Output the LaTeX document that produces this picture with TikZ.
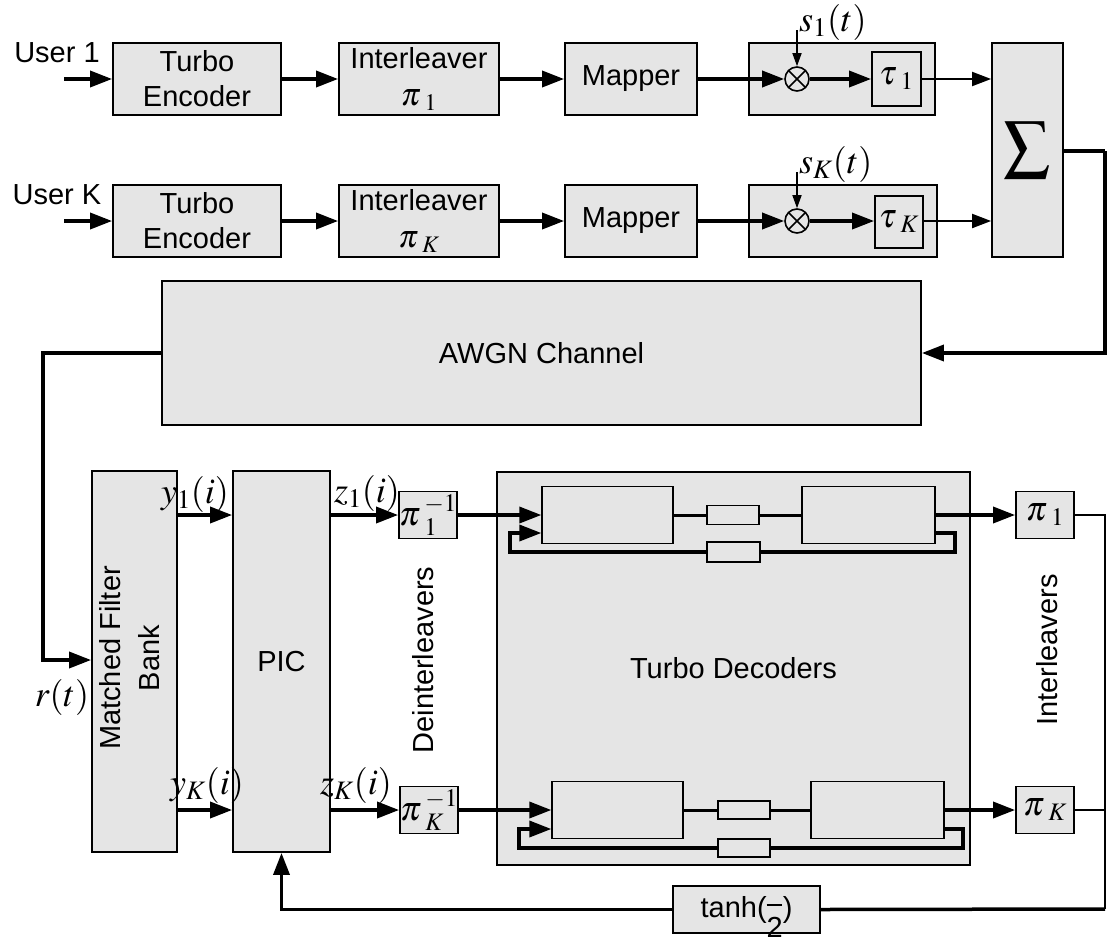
\documentclass[tikz,border=0pt]{standalone}
\usepackage{mathptmx}
\usepackage[no-math]{fontspec}
\setmainfont{Liberation Sans}
\usetikzlibrary{arrows.meta}
\definecolor{boxfill}{gray}{0.9}

\begin{document}
\begin{tikzpicture}[x=1pt, y=-1pt,
    box/.style={rectangle, draw, line width=1.8pt, fill=boxfill, inner sep=0pt, align=center, font=\fontsize{29}{35}\selectfont},
    small/.style={rectangle, draw, line width=1.3pt, fill=boxfill, inner sep=0pt},
    lbl/.style={inner sep=0pt, align=center, font=\fontsize{29}{39}\selectfont},
    mlabel/.style={inner sep=0pt, font=\fontsize{36}{40}\selectfont},
    pibox/.style={box, minimum width=58pt, minimum height=47pt, font=\fontsize{34}{36}\selectfont},
    mult/.style={circle, draw, line width=1.6pt, fill=boxfill, minimum size=24pt, inner sep=0pt,
        path picture={\draw[line width=1.6pt] (path picture bounding box.north west) -- (path picture bounding box.south east)
            (path picture bounding box.north east) -- (path picture bounding box.south west);}},
    conn/.style={line width=3.5pt, -{Triangle[length=22pt,width=16pt]}},
    tconn/.style={line width=2pt, -{Triangle[length=19pt,width=14pt]}},
    sconn/.style={line width=1.5pt, -{Triangle[length=13pt,width=9pt]}},
    wire/.style={line width=3.5pt},
]
    \useasboundingbox (0,0) rectangle (1107,945);

    % User 1
    \node[lbl] (u1) at (57,53) {User 1};
    \coordinate (in1) at (64,79);
    \node[box, minimum width=168pt, minimum height=72pt] (enc1) at (197,79) {Turbo\\Encoder};
    \node[box, minimum width=160pt, minimum height=72pt] (intl1) at (419,79) {Interleaver\\[2pt]{\fontsize{32}{32}\selectfont$\pi\mkern2mu_1$}};
    \node[box, minimum width=132pt, minimum height=72pt] (map1) at (631,79) {Mapper};
    \node[box, minimum width=186pt, minimum height=72pt] (spr1) at (842,79) {};
    \node[mult] (mul1) at (797,79) {};
    \node[box, minimum width=49pt, minimum height=54pt, font=\fontsize{34}{36}\selectfont] (tau1) at (896.5,79) {$\tau\mkern2mu_1$};
    \coordinate (s1) at (797,30);
    \node[mlabel, anchor=west] (s1lab) at (799,22) {$s_1(t)$};

    % User K
    \node[lbl] (uk) at (57,195) {User K};
    \coordinate (ink) at (64,221);
    \node[box, minimum width=168pt, minimum height=72pt] (enc2) at (197,221) {Turbo\\Encoder};
    \node[box, minimum width=160pt, minimum height=72pt] (intl2) at (419,221) {Interleaver\\[2pt]{\fontsize{32}{32}\selectfont$\pi\mkern2mu_K$}};
    \node[box, minimum width=132pt, minimum height=72pt] (map2) at (631,221) {Mapper};
    \node[box, minimum width=188pt, minimum height=72pt] (spr2) at (843,221) {};
    \node[mult] (mul2) at (797,221) {};
    \node[box, minimum width=48pt, minimum height=52pt, font=\fontsize{34}{36}\selectfont] (tauK) at (899,222) {$\tau\mkern2mu_K$};
    \coordinate (sK) at (797,172);
    \node[mlabel, anchor=west] (sKlab) at (799,164) {$s_K(t)$};

    \node[box, minimum width=71pt, minimum height=214pt, font=\fontsize{46}{50}\selectfont] (sum) at (1027.5,150) {$\displaystyle\sum$};

    \draw[conn] (in1) -- (enc1.west);
    \draw[conn] (enc1) -- (intl1);
    \draw[conn] (intl1) -- (map1);
    \draw[conn] (map1.east) -- (mul1.west);
    \draw[conn] (mul1.east) -- (tau1.west);
    \draw[tconn] (tau1.east) -- (sum.west |- tau1);
    \draw[sconn] (s1) -- (mul1.north);

    \draw[conn] (ink) -- (enc2.west);
    \draw[conn] (enc2) -- (intl2);
    \draw[conn] (intl2) -- (map2);
    \draw[conn] (map2.east) -- (mul2.west);
    \draw[conn] (mul2.east) -- (tauK.west |- mul2);
    \draw[tconn] (tauK.east |- mul2) -- (sum.west |- mul2);
    \draw[sconn] (sK) -- (mul2.north);

    % Channel
    \node[box, minimum width=759pt, minimum height=144pt] (awgn) at (541.5,353) {AWGN Channel};
    \coordinate (rtop) at (1105,151);
    \coordinate (lft) at (43,660);
    \draw[wire] (sum.east |- rtop) -- (rtop);
    \draw[conn] (rtop) |- (awgn.east);

    % Receiver
    \node[box, minimum width=85pt, minimum height=381pt] (mfb) at (134.5,661.5) {};
    \node[lbl, rotate=90] (mfbtxt) at (130,658) {Matched Filter\\Bank};
    \node[box, minimum width=97pt, minimum height=381pt] (pic) at (281.5,661.5) {PIC};
    \draw[conn] (awgn.west) -| (lft) -- (mfb.west |- lft);
    \node[mlabel] (rlab) at (62,697) {$r(t)$};

    \node[pibox] (deint1) at (428,515) {$\pi\mkern2mu_1^{-1}$};
    \node[pibox] (deintK) at (429,810) {$\pi\mkern2mu_K^{-1}$};
    \node[lbl, rotate=90] (deinttxt) at (423,660) {Deinterleavers};

    \draw[conn] (mfb.east |- deint1) -- (pic.west |- deint1);
    \draw[conn] (pic.east |- deint1) -- (deint1.west);
    \draw[conn] (mfb.east |- deintK) -- (pic.west |- deintK);
    \draw[conn] (pic.east |- deintK) -- (deintK.west);
    \node[mlabel] (y1lab) at (195,494) {$y_1(i)$};
    \node[mlabel] (z1lab) at (367,493) {$z_1(i)$};
    \node[mlabel] (yKlab) at (207,785) {$y_K(i)$};
    \node[mlabel] (zKlab) at (356,785) {$z_K(i)$};

    % Turbo decoders
    \node[box, minimum width=473pt, minimum height=393pt] (tdec) at (733.5,668.5) {Turbo Decoders};
    \node[small, minimum width=131pt, minimum height=57pt] (dec1a) at (607.5,515) {};
    \node[small, minimum width=52pt, minimum height=19pt] (sa1) at (733,515) {};
    \node[small, minimum width=133pt, minimum height=57pt] (dec2a) at (868.5,515) {};
    \node[small, minimum width=53pt, minimum height=20pt] (sb1) at (733.5,552) {};
    \node[small, minimum width=131pt, minimum height=57pt] (dec1b) at (617.5,810) {};
    \node[small, minimum width=52pt, minimum height=18pt] (sa2) at (744,810) {};
    \node[small, minimum width=133pt, minimum height=57pt] (dec2b) at (877.5,810) {};
    \node[small, minimum width=52pt, minimum height=18pt] (sb2) at (744,848) {};

    \coordinate (fbin1) at (510,533);
    \coordinate (fbr1) at (955,552);
    \coordinate (fbin2) at (519,829);
    \coordinate (fbr2) at (963,848);

    \draw[conn] (deint1.east) -- (dec1a.west);
    \draw[wire, line width=3pt] (dec1a.east) -- (sa1.west);
    \draw[wire, line width=3pt] (sa1.east) -- (dec2a.west);
    \draw[wire] (dec2a.east |- fbin1) -| (fbr1) -- (sb1.east);
    \draw[conn] (sb1.west) -| (fbin1) -- (dec1a.west |- fbin1);

    \draw[conn] (deintK.east) -- (dec1b.west);
    \draw[wire, line width=3pt] (dec1b.east) -- (sa2.west);
    \draw[wire, line width=3pt] (sa2.east) -- (dec2b.west);
    \draw[wire] (dec2b.east |- fbin2) -| (fbr2) -- (sb2.east);
    \draw[conn] (sb2.west) -| (fbin2) -- (dec1b.west |- fbin2);

    % Interleavers and feedback
    \node[pibox] (pi1) at (1045,515) {$\pi\mkern2mu_1$};
    \node[pibox] (piK) at (1045,810) {$\pi\mkern2mu_K$};
    \node[lbl, rotate=90] (inttxt) at (1047,650) {Interleavers};
    \draw[conn] (dec2a.east) -- (pi1.west);
    \draw[conn] (dec2b.east) -- (piK.west);

    \node[box, minimum width=147pt, minimum height=47pt] (tanh) at (746.5,909.5)
        {tanh(\rlap{\raisebox{11pt}{\rule{15pt}{1.8pt}}}\raisebox{-20pt}[0pt][0pt]{2})};
    \coordinate (rb) at (1105,909);
    \draw[line width=2.5pt] (pi1.east) -| (rb);
    \draw[line width=2.5pt] (piK.east) -- (piK.east -| rb);
    \draw[wire] (rb) -- (tanh.east);
    \draw[conn] (tanh.west) -| (pic.south);
\end{tikzpicture}
\end{document}
